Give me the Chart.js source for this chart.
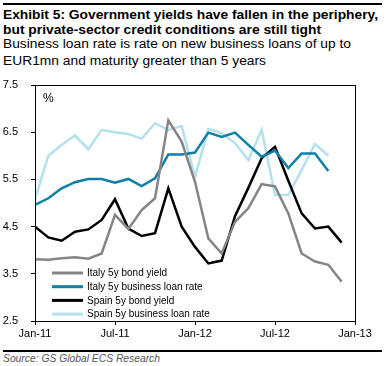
<!DOCTYPE html>
<html lang="en">
<head>
  <meta charset="UTF-8">
  <title>Exhibit 5</title>
  <script src="https://cdn.jsdelivr.net/npm/chart.js"></script>
  <style>
    body {
      margin: 0;
      width: 386px;
      height: 366px;
      background: #fff;
      font-family: "Liberation Sans", Arial, sans-serif;
      position: relative;
      overflow: hidden;
    }
    .txt {
      position: absolute;
      left: 3px;
      white-space: nowrap;
      line-height: 1;
      transform-origin: 0 0;
      color: #000;
    }
    .title { font-size: 13px; font-weight: bold; }
    .sub { font-size: 12px; }
    .src { font-size: 10.5px; font-style: italic; color: #555; }
    .rule { position: absolute; left: 3px; width: 379px; background: #000; }
    #box { position: absolute; left: 0; top: 78px; width: 386px; height: 270px; }
  </style>
</head>
<body>
  <div class="rule" style="top:3px;height:2px"></div>
  <div class="txt title" style="top:8px" data-w="375">Exhibit 5: Government yields have fallen in the periphery,</div>
  <div class="txt title" style="top:23px" data-w="318">but private-sector credit conditions are still tight</div>
  <div class="txt sub" style="top:38px" data-w="348">Business loan rate is rate on new business loans of up to</div>
  <div class="txt sub" style="top:55px" data-w="263">EUR1mn and maturity greater than 5 years</div>

  <div id="box"><canvas id="chart"></canvas></div>

  <div class="rule" style="top:350px;height:2px"></div>
  <div class="txt src" style="top:353px" data-w="157">Source: GS Global ECS Research</div>

  <script>
    // monthly data, Jan-11 .. Dec-12
    const months = ['Jan-11','Feb-11','Mar-11','Apr-11','May-11','Jun-11','Jul-11','Aug-11','Sep-11','Oct-11','Nov-11','Dec-11',
                    'Jan-12','Feb-12','Mar-12','Apr-12','May-12','Jun-12','Jul-12','Aug-12','Sep-12','Oct-12','Nov-12','Dec-12'];
    const tickLabels = ['Jan-11', 'Jul-11', 'Jan-12', 'Jul-12', 'Jan-13'];

    const italyBond = [3.81, 3.80, 3.83, 3.85, 3.82, 3.93, 4.75, 4.45, 4.85, 5.10, 6.75, 6.30,
                       5.45, 4.25, 3.93, 4.60, 4.89, 5.40, 5.35, 4.78, 3.93, 3.76, 3.69, 3.33];
    const italyLoan = [4.96, 5.10, 5.31, 5.44, 5.51, 5.51, 5.43, 5.51, 5.36, 5.52, 6.03, 6.03,
                       6.07, 6.49, 6.40, 6.49, 6.23, 5.98, 6.11, 5.74, 6.05, 6.05, 5.68, null];
    const spainBond = [4.50, 4.27, 4.20, 4.39, 4.44, 4.64, 5.08, 4.46, 4.30, 4.36, 5.31, 4.50,
                       4.07, 3.72, 3.78, 4.72, 5.32, 5.95, 6.19, 5.47, 4.78, 4.46, 4.50, 4.16];
    const spainLoan = [5.08, 6.00, 6.23, 6.43, 6.14, 6.55, 6.50, 6.46, 6.36, 6.69, 6.55, 6.63,
                       5.55, 6.57, 6.48, 6.27, 5.91, 6.55, 5.17, 5.17, 5.70, 6.25, 6.00, null];

    // squeeze the header lines to the widths seen in the picture
    document.querySelectorAll('.txt[data-w]').forEach(el => {
      const w = el.getBoundingClientRect().width;
      el.style.transform = 'scaleX(' + (el.dataset.w / w) + ')';
    });

    const pts = arr => arr.map((v, i) => ({ x: i, y: v }));

    const series = [
      { label: 'Italy 5y bond yield', data: italyBond, color: '#858585' },
      { label: 'Italy 5y business loan rate', data: italyLoan, color: '#0e7fa6' },
      { label: 'Spain 5y bond yield', data: spainBond, color: '#000000' },
      { label: 'Spain 5y business loan rate', data: spainLoan, color: '#b4e1ec' }
    ];

    // box, % sign and legend are drawn inside the plot area
    const framePlugin = {
      id: 'frame',
      afterDatasetsDraw(chart) {
        const { ctx, chartArea: a } = chart;
        ctx.save();
        ctx.strokeStyle = '#000';
        ctx.lineWidth = 1;
        ctx.strokeRect(a.left + 0.5, a.top + 0.5, a.right - a.left, a.bottom - a.top);
        ctx.fillStyle = '#000';
        ctx.font = '12px "Liberation Sans", Arial, sans-serif';
        ctx.textBaseline = 'middle';
        ctx.fillText('%', a.left + 8, a.top + 14);

        ctx.font = '10px "Liberation Sans", Arial, sans-serif';
        chart.data.datasets.forEach((ds, i) => {
          const y = a.top + 188 + i * 13.7;
          ctx.strokeStyle = ds.borderColor;
          ctx.lineWidth = 3;
          ctx.beginPath();
          ctx.moveTo(a.left + 17, y);
          ctx.lineTo(a.left + 48, y);
          ctx.stroke();
          ctx.fillStyle = '#000';
          ctx.fillText(ds.label, a.left + 52, y + 0.5);
        });
        ctx.restore();
      }
    };

    Chart.defaults.font.family = '"Liberation Sans", Arial, sans-serif';
    Chart.defaults.color = '#000';

    new Chart(document.getElementById('chart'), {
      type: 'line',
      data: {
        datasets: series.map(s => ({
          label: s.label,
          data: pts(s.data),
          borderColor: s.color,
          backgroundColor: s.color,
          borderWidth: 2.5,
          pointRadius: 0,
          tension: 0,
          spanGaps: false
        }))
      },
      options: {
        responsive: true,
        maintainAspectRatio: false,
        animation: false,
        layout: { padding: { top: 0, right: 31, left: 0, bottom: 0 } },
        plugins: { legend: { display: false }, tooltip: { enabled: false } },
        scales: {
          x: {
            type: 'linear',
            min: 0,
            max: 24,
            afterFit: s => { s.height = 27; },
            afterBuildTicks: s => { s.ticks = tickLabels.map((t, i) => ({ value: i * 6 })); },
            ticks: {
              font: { size: 11 },
              padding: 2,
              maxRotation: 0,
              callback: v => tickLabels[v / 6]
            },
            grid: { drawOnChartArea: false, tickLength: 4, color: '#000' },
            border: { color: '#000', width: 1 }
          },
          y: {
            min: 2.5,
            max: 7.5,
            afterFit: s => { s.width = 35; s.paddingTop = 7; s.paddingBottom = 0; },
            ticks: {
              stepSize: 1,
              font: { size: 11 },
              padding: 13,
              callback: v => v.toFixed(1)
            },
            grid: { drawOnChartArea: false, tickLength: 4, color: '#000' },
            border: { color: '#000', width: 1 }
          }
        }
      },
      plugins: [framePlugin]
    });
  </script>
</body>
</html>
